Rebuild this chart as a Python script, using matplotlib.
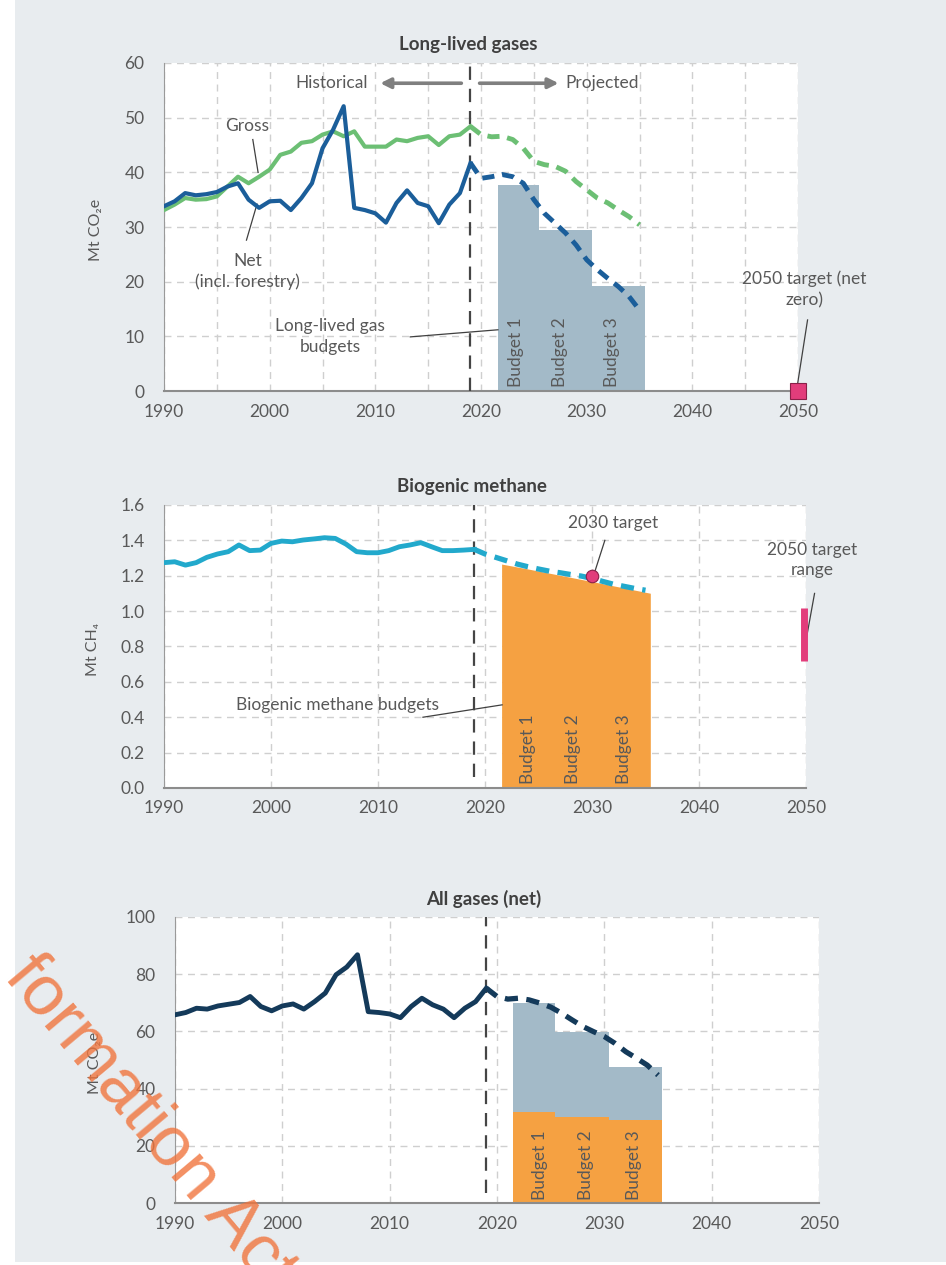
import matplotlib
matplotlib.use("Agg")
import matplotlib.pyplot as plt
import matplotlib.patches as patches
from matplotlib.ticker import MultipleLocator, FormatStrFormatter
import numpy as np

# ---- data -------------------------------------------------------------
years_hist = np.arange(1990, 2020)
years_proj = np.arange(2019, 2036)

net_hist = [33.8, 34.7, 36.2, 35.8, 36.0, 36.4, 37.4, 38.0, 35.0, 33.5,
            34.7, 34.8, 33.1, 35.3, 38.0, 44.4, 47.8, 52.1, 33.5, 33.1,
            32.5, 30.8, 34.4, 36.7, 34.4, 33.8, 30.7, 34.1, 36.2, 41.7]
net_proj = [41.7, 38.9, 39.2, 39.6, 39.2, 38.0, 35.0, 32.5, 30.7, 28.9,
            26.7, 24.0, 22.2, 20.6, 19.1, 17.3, 14.8]

gross_hist = [33.1, 34.1, 35.3, 35.0, 35.1, 35.6, 37.4, 39.2, 38.0, 39.2,
              40.5, 43.2, 43.8, 45.4, 45.7, 46.9, 47.5, 46.6, 47.5, 44.7,
              44.7, 44.7, 46.0, 45.7, 46.3, 46.6, 45.0, 46.6, 46.9, 48.4]
gross_proj = [48.4, 46.9, 46.5, 46.6, 46.0, 44.4, 42.0, 41.4, 41.1, 40.2,
              38.3, 36.8, 35.3, 34.4, 33.1, 31.9, 30.4]

llg_budget_edges = [2021.6, 2025.5, 2030.5, 2035.5]
llg_budgets = [37.7, 29.5, 19.2]

ch4_hist = [1.274, 1.279, 1.260, 1.274, 1.304, 1.323, 1.336, 1.374, 1.342, 1.345,
            1.383, 1.396, 1.392, 1.402, 1.408, 1.415, 1.411, 1.379, 1.336, 1.330,
            1.330, 1.342, 1.364, 1.374, 1.387, 1.364, 1.342, 1.342, 1.345, 1.349]
ch4_proj = [1.349, 1.323, 1.304, 1.285, 1.266, 1.251, 1.238, 1.226, 1.217, 1.207,
            1.198, 1.185, 1.168, 1.152, 1.140, 1.128, 1.118]

ch4_budget_years = [2021.55, 2024.2, 2030.1, 2035.45]
ch4_budget_top = [1.266, 1.236, 1.166, 1.101]

ch4_target_2030 = 1.20
ch4_target_2050 = [0.72, 1.02]
llg_target_2050 = 0

all_hist = [65.8, 66.6, 68.1, 67.8, 68.9, 69.5, 70.1, 72.2, 68.7, 67.2,
            68.9, 69.6, 67.8, 70.4, 73.4, 79.8, 82.5, 86.8, 66.9, 66.6,
            66.1, 64.8, 68.7, 71.6, 69.3, 67.8, 64.8, 68.1, 70.4, 75.1]
all_proj = [75.1, 72.2, 71.3, 71.6, 71.0, 69.9, 68.5, 66.4, 64.0, 61.7,
            59.9, 58.2, 55.8, 52.9, 50.6, 48.2, 44.7]

all_budget_edges = [2021.5, 2025.4, 2030.4, 2035.4]
all_budget_total = [69.9, 59.7, 47.7]
all_budget_ch4 = [31.7, 30.1, 29.0]

budget_names = ["Budget 1", "Budget 2", "Budget 3"]

# ---- style ------------------------------------------------------------
plt.rcParams['font.family'] = ['Lato', 'DejaVu Sans']
BG = '#e8ecef'
TXT = '#595959'
GRID = '#cfcfcf'
NET = '#1b5e9a'
GROSS = '#6cbf74'
BUDGET = '#a3bac8'
ORANGE = '#f5a142'
CH4 = '#22a9cc'
ALL = '#143a5a'
PINK = '#e23d7b'
LEAD = '#404040'
FS = 12.5

fig = plt.figure(figsize=(9.46, 12.65), dpi=100)
fig.patch.set_facecolor('white')
fig.add_artist(patches.Rectangle((15 / 946, 0.002), 1, 1, transform=fig.transFigure,
                                 facecolor=BG, edgecolor='none', zorder=-10))


def style_axes(ax, xmax, ymax, ystep, xminor=None):
    ax.set_facecolor('white')
    ax.set_xlim(1990, xmax)
    ax.set_ylim(0, ymax)
    ax.xaxis.set_major_locator(MultipleLocator(10))
    ax.yaxis.set_major_locator(MultipleLocator(ystep))
    if xminor:
        ax.xaxis.set_minor_locator(MultipleLocator(xminor))
        ax.grid(True, which='minor', axis='x', color=GRID, ls=(0, (5, 4)), lw=1)
    ax.grid(True, which='major', color=GRID, ls=(0, (5, 4)), lw=1)
    ax.set_axisbelow(True)
    for s in ['top', 'right']:
        ax.spines[s].set_visible(False)
    ax.spines['left'].set_color('#9a9a9a')
    ax.spines['bottom'].set_color('#8c8c8c')
    ax.spines['bottom'].set_linewidth(1.5)
    ax.tick_params(which='both', length=0, labelsize=FS, colors=TXT)
    ax.tick_params(axis='x', pad=9)
    ax.tick_params(axis='y', pad=14)


def budget_labels(ax, xs, y):
    for x, name in zip(xs, budget_names):
        ax.text(x, y, name, rotation=90, ha='center', va='bottom',
                fontsize=FS, color=TXT)


def leader(ax, p0, p1):
    ax.plot([p0[0], p1[0]], [p0[1], p1[1]], color=LEAD, lw=0.9, clip_on=False)


# ---- panel 1: long-lived gases -----------------------------------------
ax1 = fig.add_axes([0.1734, 0.6909, 0.6702, 0.2593])
style_axes(ax1, 2050, 60, 10, xminor=5)
ax1.stairs(llg_budgets, llg_budget_edges, fill=True, color=BUDGET, zorder=2)
ax1.axvline(2019, color='#454545', ls=(0, (6, 4)), lw=1.6, zorder=3)
ax1.plot(years_hist, gross_hist, color=GROSS, lw=3, zorder=4)
ax1.plot(years_proj, gross_proj, color=GROSS, lw=3.5, ls=(0, (2.5, 1.6)), zorder=4)
ax1.plot(years_hist, net_hist, color=NET, lw=3, zorder=5)
ax1.plot(years_proj, net_proj, color=NET, lw=3.5, ls=(0, (2.5, 1.6)), zorder=5)
ax1.plot(2050, llg_target_2050, marker='s', ms=11, mfc=PINK, mec='#8a2048',
         mew=0.8, clip_on=False, zorder=6)
budget_labels(ax1, [2023.3, 2027.5, 2032.4], 0.8)
ax1.set_title('Long-lived gases', fontsize=13.5, fontweight='bold', color='#404040',
              x=0.48, pad=9)
ax1.set_ylabel('Mt CO\u2082e', fontsize=11.5, color=TXT)
ax1.yaxis.set_label_coords(-0.096, 0.49)

ax1.annotate('', xy=(2010.2, 56.3), xytext=(2018.4, 56.3),
             arrowprops=dict(arrowstyle='-|>,head_length=0.6,head_width=0.3',
                             color='#7f7f7f', lw=2.6))
ax1.annotate('', xy=(2027.6, 56.3), xytext=(2019.6, 56.3),
             arrowprops=dict(arrowstyle='-|>,head_length=0.6,head_width=0.3',
                             color='#7f7f7f', lw=2.6))
ax1.text(2009.3, 56.3, 'Historical', ha='right', va='center', fontsize=FS, color=TXT)
ax1.text(2028.0, 56.3, 'Projected', ha='left', va='center', fontsize=FS, color=TXT)
ax1.text(1997.9, 48.4, 'Gross', ha='center', va='center', fontsize=FS, color=TXT)
leader(ax1, (1998.4, 46.0), (1998.9, 40.0))
ax1.text(1997.9, 21.9, 'Net\n(incl. forestry)', ha='center', va='center',
         fontsize=FS, color=TXT, linespacing=1.35)
leader(ax1, (1997.8, 27.6), (1998.8, 34.2))
ax1.text(2005.7, 10.0, 'Long-lived gas\nbudgets', ha='center', va='center',
         fontsize=FS, color=TXT, linespacing=1.35)
leader(ax1, (2013.3, 9.9), (2021.6, 11.2))
ax1.text(2050.6, 18.6, '2050 target (net\nzero)', ha='center', va='center',
         fontsize=FS, color=TXT, linespacing=1.35)
leader(ax1, (2050.9, 13.0), (2049.9, 0.6))

# ---- panel 2: biogenic methane -----------------------------------------
ax2 = fig.add_axes([0.1734, 0.3771, 0.6786, 0.2237])
style_axes(ax2, 2050, 1.6, 0.2)
ax2.yaxis.set_major_formatter(FormatStrFormatter('%.1f'))
ax2.fill_between(ch4_budget_years, 0, ch4_budget_top, color=ORANGE, lw=0, zorder=2)
ax2.axvline(2019, ymin=0.04, color='#454545', ls=(0, (6, 4)), lw=1.6, zorder=3)
ax2.plot(years_hist, ch4_hist, color=CH4, lw=3.5, zorder=4)
ax2.plot(years_proj, ch4_proj, color=CH4, lw=3.8, ls=(0, (2.5, 1.6)), zorder=4)
ax2.plot(2030, ch4_target_2030, marker='o', ms=9, mfc=PINK, mec='#8a2048',
         mew=0.8, zorder=6)
ax2.vlines(2049.8, ch4_target_2050[0], ch4_target_2050[1], color=PINK, lw=5,
           clip_on=False, zorder=6)
budget_labels(ax2, [2024.0, 2028.2, 2033.0], 0.02)
ax2.set_title('Biogenic methane', fontsize=13.5, fontweight='bold', color='#404040',
              x=0.48, pad=9)
ax2.set_ylabel('Mt CH\u2084', fontsize=11.5, color=TXT)
ax2.yaxis.set_label_coords(-0.1, 0.49)
ax2.text(2032.0, 1.50, '2030 target', ha='center', va='center', fontsize=FS, color=TXT)
leader(ax2, (2031.2, 1.40), (2030.3, 1.23))
ax2.text(2050.6, 1.29, '2050 target\nrange', ha='center', va='center',
         fontsize=FS, color=TXT, linespacing=1.35)
leader(ax2, (2050.8, 1.10), (2049.9, 0.80))
ax2.text(2006.2, 0.47, 'Biogenic methane budgets', ha='center', va='center',
         fontsize=FS, color=TXT)
leader(ax2, (2014.2, 0.40), (2021.6, 0.47))

# ---- panel 3: all gases (net) ------------------------------------------
ax3 = fig.add_axes([0.185, 0.0490, 0.6808, 0.2261])
style_axes(ax3, 2050, 100, 20)
ax3.stairs(all_budget_total, all_budget_edges, fill=True, color=BUDGET, zorder=2)
ax3.stairs(all_budget_ch4, all_budget_edges, fill=True, color=ORANGE, zorder=2)
ax3.axvline(2019, ymin=0.035, color='#454545', ls=(0, (6, 4)), lw=1.6, zorder=3)
ax3.plot(years_hist, all_hist, color=ALL, lw=3.5, zorder=4)
ax3.plot(years_proj, all_proj, color=ALL, lw=3.8, ls=(0, (2.5, 1.6)), zorder=4)
budget_labels(ax3, [2024.0, 2028.3, 2032.8], 1.0)
ax3.set_title('All gases (net)', fontsize=13.5, fontweight='bold', color='#404040',
              x=0.48, pad=9)
ax3.set_ylabel('Mt CO\u2082e', fontsize=11.5, color=TXT)
ax3.yaxis.set_label_coords(-0.113, 0.49)

# ---- watermark (cut off at the left edge, as in the source) -------------
fig.text(3 / 946, 1 - 977 / 1265, 'formation Act', rotation=-50,
         rotation_mode='anchor', ha='left', va='baseline', fontsize=51,
         family=['Liberation Sans', 'DejaVu Sans'], color='#f0743c', alpha=0.8,
         zorder=20)

fig.savefig('out.png', dpi=100, facecolor=fig.get_facecolor())
